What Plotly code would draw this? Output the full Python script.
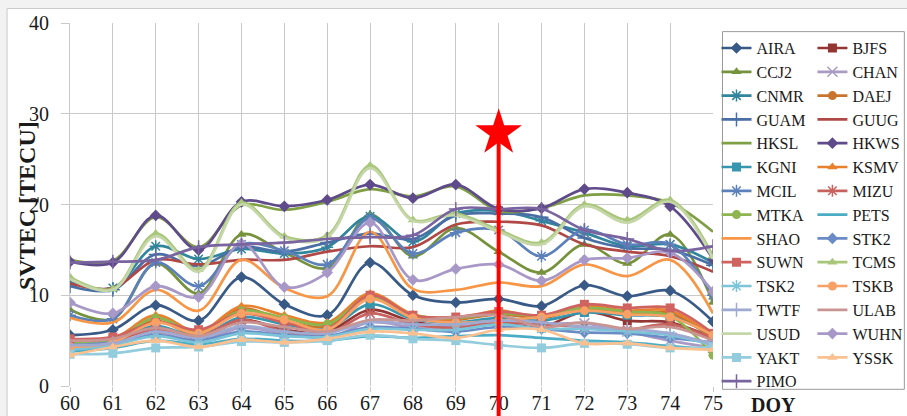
import plotly.graph_objects as go

# Day of year (x categories)
DOY = [60, 61, 62, 63, 64, 65, 66, 67, 68, 69, 70, 71, 72, 73, 74, 75]
Y_TICKS = [0, 10, 20, 30, 40]

# SVTEC per station [TECU]
AIRA = [5.6, 6.2, 8.9, 7.2, 12.0, 9.0, 7.8, 13.6, 10.0, 9.2, 9.6, 8.8, 11.1, 9.9, 10.5, 7.1]
BJFS = [4.2, 4.8, 6.5, 5.2, 7.3, 6.2, 6.0, 8.4, 7.1, 6.5, 6.9, 6.5, 8.2, 7.2, 7.0, 5.3]
CCJ2 = [8.4, 7.4, 13.5, 10.2, 16.7, 14.7, 13.0, 18.9, 14.3, 17.4, 14.8, 12.5, 15.6, 13.5, 16.7, 9.2]
CHAN = [4.3, 4.6, 5.8, 5.0, 6.4, 5.8, 5.3, 7.0, 6.5, 6.5, 7.0, 6.8, 6.9, 6.0, 5.0, 4.2]
CNMR = [11.4, 10.8, 15.4, 14.0, 15.1, 14.6, 15.3, 18.7, 15.9, 19.0, 19.3, 18.2, 16.9, 15.4, 15.6, 13.6]
DAEJ = [4.6, 5.0, 7.2, 5.6, 8.5, 7.2, 6.6, 9.9, 7.6, 7.3, 7.9, 7.5, 8.5, 8.0, 8.0, 5.2]
GUAM = [11.0, 10.6, 14.5, 13.2, 15.3, 14.8, 15.8, 16.8, 16.2, 18.8, 19.0, 18.6, 16.3, 15.2, 15.0, 13.3]
GUUG = [11.3, 10.8, 13.9, 13.4, 13.9, 13.9, 14.8, 15.4, 15.3, 17.8, 18.1, 17.7, 15.6, 14.8, 14.3, 12.6]
HKSL = [13.9, 13.8, 18.6, 15.3, 19.9, 19.4, 20.3, 21.7, 20.9, 22.0, 19.3, 19.6, 21.0, 21.0, 20.2, 17.0]
HKWS = [13.7, 13.6, 18.8, 15.0, 20.3, 19.8, 20.5, 22.2, 20.7, 22.2, 19.5, 19.6, 21.7, 21.3, 19.8, 14.0]
KGNI = [4.6, 5.1, 6.6, 5.5, 7.6, 6.8, 6.3, 9.0, 7.4, 7.0, 7.5, 7.2, 8.1, 7.8, 7.6, 5.6]
KSMV = [4.9, 5.2, 7.8, 6.0, 8.8, 7.8, 7.0, 10.2, 7.9, 7.4, 8.3, 7.6, 8.8, 8.3, 8.3, 5.5]
MCIL = [7.8, 7.4, 13.6, 11.0, 15.6, 14.9, 13.4, 18.5, 14.6, 16.9, 17.2, 14.3, 17.2, 15.6, 15.6, 10.0]
MIZU = [4.5, 5.0, 6.2, 5.5, 7.3, 6.0, 5.7, 8.0, 6.8, 6.4, 7.0, 6.8, 6.5, 6.2, 6.8, 5.2]
MTKA = [4.8, 5.0, 7.5, 5.8, 8.3, 7.5, 6.8, 9.8, 7.8, 7.5, 8.0, 7.8, 8.6, 8.2, 7.7, 3.4]
PETS = [3.8, 4.2, 5.0, 4.6, 5.2, 5.0, 5.0, 5.5, 5.3, 5.5, 5.6, 5.3, 5.0, 4.8, 4.4, 4.0]
SHAO = [7.5, 7.0, 10.6, 8.3, 13.9, 10.8, 9.9, 17.0, 10.7, 10.6, 11.4, 11.0, 13.4, 12.1, 13.9, 8.0]
STK2 = [4.5, 4.8, 5.6, 5.0, 6.0, 5.6, 5.5, 6.5, 6.3, 6.0, 6.5, 6.3, 5.9, 5.8, 5.3, 4.8]
SUWN = [5.2, 5.4, 7.0, 6.2, 8.0, 7.0, 6.2, 10.0, 7.8, 7.6, 8.2, 7.8, 9.0, 8.6, 8.6, 5.8]
TCMS = [12.0, 10.7, 16.8, 12.8, 20.2, 16.5, 16.6, 24.3, 18.3, 19.0, 17.2, 15.8, 20.0, 18.3, 20.5, 14.3]
TSK2 = [4.0, 4.5, 5.5, 4.8, 5.8, 5.5, 5.4, 6.3, 6.2, 6.2, 6.8, 6.3, 6.3, 6.0, 5.6, 4.5]
TSKB = [4.3, 4.8, 7.0, 5.8, 8.0, 7.3, 6.2, 9.6, 7.5, 7.0, 7.2, 7.6, 8.3, 7.9, 7.6, 5.6]
TWTF = [4.5, 4.7, 6.0, 5.3, 6.6, 6.0, 5.8, 7.1, 6.8, 6.8, 7.2, 7.0, 6.5, 6.3, 5.8, 4.6]
ULAB = [5.0, 5.2, 6.4, 5.5, 7.0, 6.5, 6.0, 7.3, 7.2, 7.6, 7.8, 6.5, 7.0, 6.3, 6.5, 5.0]
USUD = [11.8, 10.6, 16.5, 12.6, 20.0, 16.3, 16.4, 24.0, 18.2, 18.8, 17.0, 15.6, 19.8, 18.0, 20.3, 14.0]
WUHN = [9.2, 8.0, 11.0, 9.8, 15.7, 10.9, 12.5, 18.0, 11.7, 12.9, 13.4, 11.6, 13.9, 14.1, 14.7, 10.4]
YAKT = [3.5, 3.6, 4.2, 4.3, 4.9, 4.8, 5.0, 5.6, 5.2, 5.0, 4.5, 4.2, 4.7, 4.6, 4.2, 4.3]
YSSK = [3.4, 4.3, 5.0, 4.3, 5.1, 4.8, 5.2, 6.0, 5.8, 5.3, 6.2, 6.2, 4.7, 4.7, 4.2, 4.0]
PIMO = [13.6, 13.7, 13.9, 15.3, 15.6, 15.8, 16.2, 16.4, 16.6, 19.5, 19.5, 19.5, 17.2, 16.2, 14.9, 15.4]

# Highlighted day and the level of the star marker above it
MARK_DOY = 70
MARK_LEVEL = 27.9

# (name, values, colour, marker symbol or None, legend column)
series = [
    ("AIRA", AIRA, "#395A86", "diamond", "legend"),
    ("BJFS", BJFS, "#943634", "square", "legend2"),
    ("CCJ2", CCJ2, "#76923C", "triangle-up", "legend"),
    ("CHAN", CHAN, "#A99BC4", "x-thin-open", "legend2"),
    ("CNMR", CNMR, "#31859C", "asterisk-open", "legend"),
    ("DAEJ", DAEJ, "#C8742C", "circle", "legend2"),
    ("GUAM", GUAM, "#4A6FA5", "cross-thin-open", "legend"),
    ("GUUG", GUUG, "#B04846", None, "legend2"),
    ("HKSL", HKSL, "#7F9F45", None, "legend"),
    ("HKWS", HKWS, "#5F4A8B", "diamond", "legend2"),
    ("KGNI", KGNI, "#3596AE", "square", "legend"),
    ("KSMV", KSMV, "#E8812E", "triangle-up", "legend2"),
    ("MCIL", MCIL, "#5B80BA", "asterisk-open", "legend"),
    ("MIZU", MIZU, "#C7625F", "asterisk-open", "legend2"),
    ("MTKA", MTKA, "#8DB44F", "circle", "legend"),
    ("PETS", PETS, "#4BACC6", None, "legend2"),
    ("SHAO", SHAO, "#F79646", None, "legend"),
    ("STK2", STK2, "#6A8BC6", "diamond", "legend2"),
    ("SUWN", SUWN, "#D06360", "square", "legend"),
    ("TCMS", TCMS, "#A9C77A", "triangle-up", "legend2"),
    ("TSK2", TSK2, "#7CC4D8", "asterisk-open", "legend"),
    ("TSKB", TSKB, "#F9A064", "circle", "legend2"),
    ("TWTF", TWTF, "#9EAAD2", "cross-thin-open", "legend"),
    ("ULAB", ULAB, "#C99593", None, "legend2"),
    ("USUD", USUD, "#C5D6A8", None, "legend"),
    ("WUHN", WUHN, "#A898C8", "diamond", "legend2"),
    ("YAKT", YAKT, "#93CDDD", "square", "legend"),
    ("YSSK", YSSK, "#FAC090", "triangle-up", "legend2"),
    ("PIMO", PIMO, "#7A64A0", "cross-thin-open", "legend"),
]

SERIF = "Liberation Serif, Times New Roman, serif"

fig = go.Figure()
for name, vals, col, sym, leg in series:
    if sym is None:
        mode = "lines"
        marker = None
    else:
        mode = "lines+markers"
        open_sym = sym.endswith("open")
        marker = dict(symbol=sym, size=9 if not open_sym else 10, color=col,
                      line=dict(color=col, width=1.5 if open_sym else 0))
    fig.add_trace(go.Scatter(
        x=DOY, y=vals, name=name, mode=mode,
        line=dict(color=col, width=2.7, shape="spline", smoothing=1.0),
        marker=marker, legend=leg,
    ))

# Red star above the highlighted day
fig.add_trace(go.Scatter(
    x=[MARK_DOY], y=[MARK_LEVEL], mode="markers", showlegend=False,
    marker=dict(symbol="star", size=35, color="#FF0000", line=dict(width=0)),
    hoverinfo="skip",
))

x_lo, x_hi = DOY[0], DOY[-1]
mark_xp = (MARK_DOY - x_lo) / (x_hi - x_lo)

legend_style = dict(
    xanchor="left", yanchor="top", xref="paper", yref="paper",
    y=(385.7 - 31.5) / 362.3, maxheight=420,
    bgcolor="rgba(0,0,0,0)", borderwidth=0,
    font=dict(family=SERIF, size=16, color="#1A1A1A"), traceorder="normal",
)

fig.update_layout(
    width=907, height=416,
    margin=dict(l=70, r=193.5, t=23.4, b=30.3, autoexpand=False),
    paper_bgcolor="#F2F2F2",
    plot_bgcolor="rgba(0,0,0,0)",
    font=dict(family=SERIF, color="#1A1A1A"),
    xaxis=dict(
        range=[x_lo, x_hi], tickmode="array", tickvals=DOY, ticktext=[str(d) for d in DOY],
        showgrid=True, gridcolor="#C9C9C9", gridwidth=1,
        ticks="outside", ticklen=5, tickcolor="#C9C9C9",
        tickfont=dict(family=SERIF, size=20, color="#1A1A1A"),
        showline=False, zeroline=False, ticklabelstandoff=-6,
    ),
    yaxis=dict(
        range=[0, 40], tickmode="array", tickvals=Y_TICKS,
        showgrid=True, gridcolor="#C9C9C9", gridwidth=1,
        ticks="outside", ticklen=8, tickcolor="#C9C9C9",
        tickfont=dict(family=SERIF, size=20, color="#1A1A1A"),
        showline=True, linecolor="#C9C9C9", zeroline=False, ticklabelstandoff=8,
    ),
    legend=dict(x=(717 - 70) / 643.5, **legend_style),
    legend2=dict(x=(813 - 70) / 643.5, **legend_style),
    shapes=[
        # white chart area with a thin frame
        dict(type="rect", xref="paper", yref="paper", layer="below",
             x0=(7 - 70) / 643.5, x1=(912 - 70) / 643.5,
             y0=(385.7 - 422) / 362.3, y1=(385.7 - 9) / 362.3,
             fillcolor="white", line=dict(color="#C8C8C8", width=1)),
        # legend frame
        dict(type="rect", xref="paper", yref="paper", layer="above",
             x0=(723 - 70) / 643.5, x1=(905 - 70) / 643.5,
             y0=(385.7 - 389) / 362.3, y1=(385.7 - 32) / 362.3,
             fillcolor="rgba(0,0,0,0)", line=dict(color="#9A9A9A", width=1)),
        # red marker line at the highlighted day
        dict(type="line", xref="paper", yref="paper", layer="above",
             x0=mark_xp, x1=mark_xp, y0=(385.7 - 416) / 362.3, y1=MARK_LEVEL / 40,
             line=dict(color="#FF0000", width=4)),
    ],
    annotations=[
        dict(text="<b>SVTEC [TECU]</b>", xref="paper", yref="paper",
             x=(27 - 70) / 643.5, y=(385.7 - 206) / 362.3, textangle=-90,
             showarrow=False, font=dict(family=SERIF, size=24, color="#1A1A1A"),
             xanchor="center", yanchor="middle"),
        dict(text="<b>DOY</b>", xref="paper", yref="paper",
             x=(774 - 70) / 643.5, y=(385.7 - 405) / 362.3,
             showarrow=False, font=dict(family=SERIF, size=20, color="#1A1A1A"),
             xanchor="center", yanchor="middle"),
    ],
)

fig.write_html("out.html")
